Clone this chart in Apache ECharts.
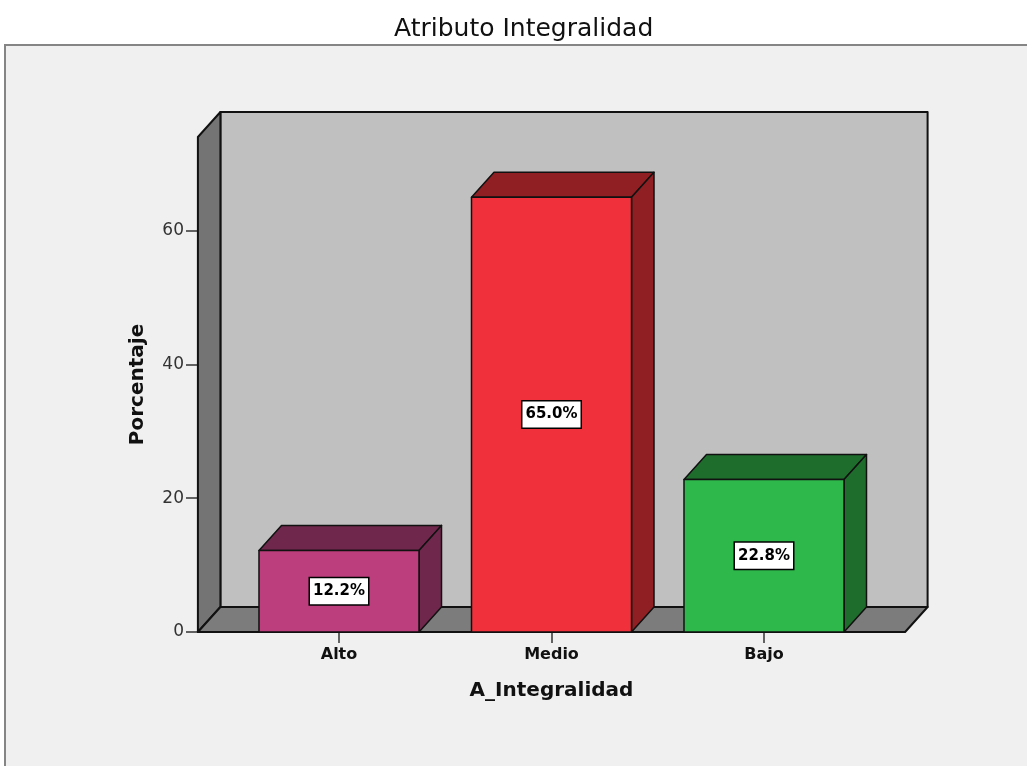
<!DOCTYPE html>
<html>
<head>
<meta charset="utf-8">
<script src="https://cdn.jsdelivr.net/npm/echarts@6/dist/echarts.min.js"></script>
<style>
  html, body { margin: 0; padding: 0; background: #ffffff; }
  #chart { width: 1027px; height: 766px; }
</style>
</head>
<body>
<div id="chart"></div>
<script>
// Categories of A_Integralidad and their percentages
const categories = ['Alto', 'Medio', 'Bajo'];
const percentages = [12.2, 65.0, 22.8];
const faceColors = ['#bc3e7d', '#f0303a', '#2eb84c'];
const shadeColors = ['#6f274b', '#8f1f22', '#1e6d2c'];
const yMax = 74;
const yStep = 20;

// 3D look: pixel depth of the extruded boxes and the room walls
const DX = 22.5;
const DY = 25;
const BAR_RATIO = 0.753;   // bar width relative to a category band
const SIDE_PAD = 0.664;    // floor overhang beyond the outer bar centers, in bands
const EDGE = '#111111';

const FONT = '"DejaVu Sans", "Liberation Sans", Arial, sans-serif';

function renderRoom(params, api) {
  const c0 = api.coord([0, 0]);
  const c2 = api.coord([categories.length - 1, 0]);
  const top = api.coord([0, yMax])[1];
  const step = api.size([1, 0])[0];
  const xl = c0[0] - SIDE_PAD * step;
  const xr = c2[0] + SIDE_PAD * step;
  const yb = c0[1];
  const stroke = { stroke: EDGE, lineWidth: 2, lineJoin: 'round' };
  return {
    type: 'group',
    children: [
      { type: 'polygon', shape: { points: [[xl + DX, top - DY], [xr + DX, top - DY], [xr + DX, yb - DY], [xl + DX, yb - DY]] },
        style: Object.assign({ fill: '#c0c0c0' }, stroke) },
      { type: 'polygon', shape: { points: [[xl, top], [xl + DX, top - DY], [xl + DX, yb - DY], [xl, yb]] },
        style: Object.assign({ fill: '#747474' }, stroke) },
      { type: 'polygon', shape: { points: [[xl, yb], [xl + DX, yb - DY], [xr + DX, yb - DY], [xr, yb]] },
        style: Object.assign({ fill: '#7c7c7c' }, stroke) }
    ]
  };
}

function renderBar(params, api) {
  const i = api.value(0);
  const v = api.value(1);
  const base = api.coord([i, 0]);
  const tip = api.coord([i, v]);
  const w = api.size([1, 0])[0] * BAR_RATIO;
  const x0 = base[0] - w / 2, x1 = base[0] + w / 2;
  const y0 = base[1], y1 = tip[1];
  const edge = { stroke: EDGE, lineWidth: 1.5, lineJoin: 'round' };
  return {
    type: 'group',
    children: [
      { type: 'polygon', shape: { points: [[x0, y1], [x0 + DX, y1 - DY], [x1 + DX, y1 - DY], [x1, y1]] },
        style: Object.assign({ fill: shadeColors[i] }, edge) },
      { type: 'polygon', shape: { points: [[x1, y1], [x1 + DX, y1 - DY], [x1 + DX, y0 - DY], [x1, y0]] },
        style: Object.assign({ fill: shadeColors[i] }, edge) },
      { type: 'rect', shape: { x: x0, y: y1, width: w, height: y0 - y1 },
        style: Object.assign({ fill: faceColors[i] }, edge) },
      { type: 'text', x: base[0], y: (y0 + y1) / 2,
        style: {
          text: v.toFixed(1) + '%', fill: '#000', font: 'bold 15px ' + FONT,
          align: 'center', verticalAlign: 'middle',
          backgroundColor: '#ffffff', borderColor: '#000000', borderWidth: 1.5,
          padding: [6, 3, 5, 3]
        } }
    ]
  };
}

const chart = echarts.init(document.getElementById('chart'));
chart.setOption({
  animation: false,
  backgroundColor: '#ffffff',
  title: {
    text: 'Atributo Integralidad',
    left: 394, top: 17, padding: 0,
    textStyle: { fontFamily: FONT, fontSize: 25, fontWeight: 'normal', color: '#111' }
  },
  graphic: [{
    type: 'rect', z: -10, silent: true,
    shape: { x: 5, y: 45, width: 1040, height: 740 },
    style: { fill: '#f0f0f0', stroke: '#858585', lineWidth: 2 }
  }],
  grid: { left: 232.75, right: 156.75, top: 137, bottom: 134 },
  xAxis: {
    type: 'category',
    data: categories,
    boundaryGap: true,
    name: 'A_Integralidad',
    nameLocation: 'middle',
    nameGap: 49,
    nameTextStyle: { fontFamily: FONT, fontSize: 20, fontWeight: 'bold', color: '#111' },
    axisLine: { show: false },
    axisTick: { show: true, alignWithLabel: true, length: 11, lineStyle: { color: '#333', width: 1.5 } },
    axisLabel: { margin: 15, fontFamily: FONT, fontSize: 16, fontWeight: 'bold', color: '#111' },
    splitLine: { show: false }
  },
  yAxis: {
    type: 'value',
    min: 0, max: yMax, interval: yStep,
    offset: 34.75,
    name: 'Porcentaje',
    nameLocation: 'middle',
    nameGap: 50,
    nameTextStyle: { fontFamily: FONT, fontSize: 20, fontWeight: 'bold', color: '#111' },
    axisLine: { show: false },
    axisTick: { show: true, length: 12, lineStyle: { color: '#333', width: 1.5 } },
    axisLabel: { margin: 14, fontFamily: FONT, fontSize: 17, color: '#333',
      showMaxLabel: false },
    splitLine: { show: false }
  },
  series: [
    { type: 'custom', name: 'room', z: 1, silent: true, renderItem: renderRoom, data: [[0, 0]] },
    { type: 'custom', name: 'Porcentaje', z: 2, renderItem: renderBar,
      data: percentages.map((p, i) => [i, p]) }
  ]
});
</script>
</body>
</html>
